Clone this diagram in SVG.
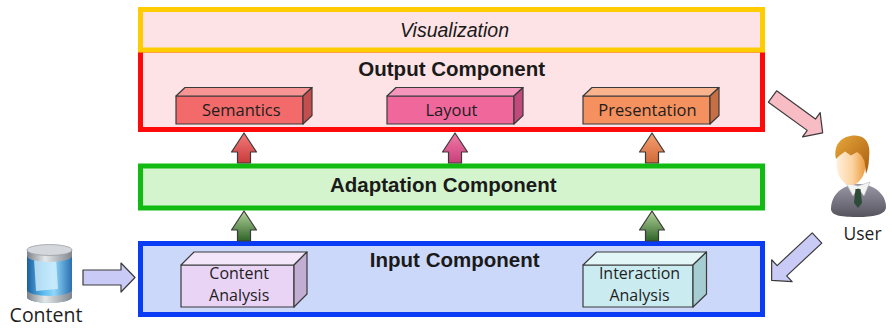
<svg xmlns="http://www.w3.org/2000/svg" width="892" height="328" viewBox="0 0 892 328">
  <defs>
    <style>
      .title { font-family: "Liberation Sans", Arial, sans-serif; font-weight: bold; font-size: 20.5px; fill: #1a1a1a; text-anchor: middle; }
      .ital { font-family: "Liberation Sans", Arial, sans-serif; font-style: italic; font-size: 19.5px; fill: #1a1a1a; text-anchor: middle; }
      .lbl { font-family: "Open Sans", "Noto Sans", sans-serif; font-size: 16.5px; fill: #1e1e1e; text-anchor: middle; }
      .lbl2 { font-family: "Open Sans", "Noto Sans", sans-serif; font-size: 16px; fill: #1e1e1e; text-anchor: middle; }
      .cap { font-family: "Open Sans", "Noto Sans", sans-serif; fill: #1e1e1e; text-anchor: middle; }
      .edge { stroke: #3a3a3a; stroke-width: 1.2; stroke-linejoin: round; }
      .frame { stroke-width: 5; }
    </style>
    <!-- block arrow pointing up, tip at origin -->
    <path id="up" d="M0,0 L12.5,19 L6.5,19 L6.5,30 L-6.5,30 L-6.5,19 L-12.5,19 Z"/>
    <!-- block arrow pointing right, tail at origin, length 62 -->
    <path id="fat" d="M0,-7 L48,-7 L48,-15 L62,0 L48,15 L48,7 L0,7 Z"/>
    <linearGradient id="gRed" x1="0" y1="0" x2="0" y2="1">
      <stop offset="0" stop-color="#f47a7a"/><stop offset="1" stop-color="#c83c3c"/>
    </linearGradient>
    <linearGradient id="gPink" x1="0" y1="0" x2="0" y2="1">
      <stop offset="0" stop-color="#f27aa8"/><stop offset="1" stop-color="#c8407a"/>
    </linearGradient>
    <linearGradient id="gOrange" x1="0" y1="0" x2="0" y2="1">
      <stop offset="0" stop-color="#f7a070"/><stop offset="1" stop-color="#d06a3a"/>
    </linearGradient>
    <linearGradient id="gGreen" x1="0" y1="0" x2="0" y2="1">
      <stop offset="0" stop-color="#b4d49c"/><stop offset="1" stop-color="#2f6428"/>
    </linearGradient>
    <linearGradient id="cylBlue" x1="0" y1="0" x2="1" y2="0">
      <stop offset="0" stop-color="#1b5f9e"/><stop offset="0.35" stop-color="#5ab8ec"/>
      <stop offset="0.6" stop-color="#8fd8fa"/><stop offset="1" stop-color="#2a6fb0"/>
    </linearGradient>
    <linearGradient id="metal" x1="0" y1="0" x2="1" y2="0">
      <stop offset="0" stop-color="#7c8288"/><stop offset="0.4" stop-color="#e4e8ea"/>
      <stop offset="1" stop-color="#80868c"/>
    </linearGradient>
    <linearGradient id="skin" x1="0" y1="0" x2="1" y2="0">
      <stop offset="0" stop-color="#fff0dc"/><stop offset="0.55" stop-color="#fbd3a0"/>
      <stop offset="1" stop-color="#ec9a3c"/>
    </linearGradient>
    <linearGradient id="hair" x1="0" y1="0" x2="1" y2="1">
      <stop offset="0" stop-color="#e8a83a"/><stop offset="1" stop-color="#a85c10"/>
    </linearGradient>
    <linearGradient id="suit" x1="0" y1="0" x2="0" y2="1">
      <stop offset="0" stop-color="#9a98a6"/><stop offset="1" stop-color="#55545e"/>
    </linearGradient>
  </defs>

  <!-- output layer (drawn first so the visualization frame sits on its top edge) -->
  <g id="output-component">
    <rect class="frame" x="140.5" y="50" width="622" height="79.5" fill="#fde3e5" stroke="#ff0a0a"/>
    <text class="title" x="451.7" y="76">Output Component</text>
  </g>

  <g id="visualization">
    <rect class="frame" x="140.5" y="9.5" width="622" height="40.5" fill="#fde3e5" stroke="#ffcc00"/>
    <text class="ital" x="454.5" y="36.5">Visualization</text>
  </g>

  <g id="semantics">
    <rect class="edge" x="176" y="96" width="127" height="28" fill="#f26a6a"/>
    <polygon class="edge" points="176,96 185,87.5 312,87.5 303,96" fill="#f79494"/>
    <polygon class="edge" points="303,96 312,87.5 312,115.5 303,124" fill="#c44e4e"/>
    <text class="lbl" x="241.3" y="115.5">Semantics</text>
  </g>

  <g id="layout">
    <rect class="edge" x="387" y="96" width="127" height="28" fill="#f0679c"/>
    <polygon class="edge" points="387,96 396,87.5 523,87.5 514,96" fill="#f596bd"/>
    <polygon class="edge" points="514,96 523,87.5 523,115.5 514,124" fill="#c04a7c"/>
    <text class="lbl" x="451.5" y="115.5">Layout</text>
  </g>

  <g id="presentation">
    <rect class="edge" x="583" y="96" width="127" height="28" fill="#f5915e"/>
    <polygon class="edge" points="583,96 592,87.5 719,87.5 710,96" fill="#f9b48e"/>
    <polygon class="edge" points="710,96 719,87.5 719,115.5 710,124" fill="#c86e44"/>
    <text class="lbl" x="647.5" y="115.5">Presentation</text>
  </g>

  <g id="adaptation-component">
    <rect class="frame" x="140.5" y="166" width="622" height="42" fill="#d3f4cd" stroke="#12bb12"/>
    <text class="title" x="443.3" y="192.3">Adaptation Component</text>
  </g>

  <g id="input-component">
    <rect class="frame" x="140.5" y="243.5" width="622" height="71" fill="#ccd8f9" stroke="#0a3cf5"/>
    <text class="title" x="454.7" y="266.7">Input Component</text>
  </g>

  <g id="content-analysis">
    <rect class="edge" x="181" y="265" width="113" height="42" fill="#ead4f6"/>
    <polygon class="edge" points="181,265 194,252 307,252 294,265" fill="#f3e6fa"/>
    <polygon class="edge" points="294,265 307,252 307,294 294,307" fill="#c2aed2"/>
    <text class="lbl2" x="239.2" y="278.5">Content</text>
    <text class="lbl2" x="239.2" y="300.5">Analysis</text>
  </g>

  <g id="interaction-analysis">
    <rect class="edge" x="583" y="265" width="110" height="42" fill="#caecf1"/>
    <polygon class="edge" points="583,265 596.5,252 706.5,252 693,265" fill="#e2f5f7"/>
    <polygon class="edge" points="693,265 706.5,252 706.5,294 693,307" fill="#a6cdd2"/>
    <text class="lbl2" x="639.5" y="278.5">Interaction</text>
    <text class="lbl2" x="639.5" y="300.5">Analysis</text>
  </g>

  <g id="content">
    <!-- glass cylinder with metal caps -->
    <path d="M27,251 V297 A22.5,6 0 0 0 72,297 V251 Z" fill="url(#cylBlue)"/>
    <path d="M34,259 L56,257 L58,289 L36,291 Z" fill="#d8f0fc" opacity="0.75"/>
    <path d="M27,290 V297 A22.5,6 0 0 0 72,297 V290 A22.5,6 0 0 1 27,290 Z" fill="url(#metal)"/>
    <path d="M27,250 V256 A22.5,6 0 0 0 72,256 V250 Z" fill="url(#metal)"/>
    <ellipse cx="49.5" cy="250" rx="22.5" ry="5.5" fill="#d4d8dc" stroke="#9aa0a6" stroke-width="0.8"/>
    <text class="cap" x="46" y="322" font-size="19.5">Content</text>
  </g>

  <g id="user">
    <path d="M831,209 C831,194 843,185 857,184 C872,183 886,193 886,207 C886,215 872,217 858,217 C843,217 831,216 831,209 Z" fill="url(#suit)"/>
    <path d="M846,183 L853,196 L858,188 L864,196 L870,182 L858,186 Z" fill="#f4f4f4" stroke="#b8b8b8" stroke-width="0.6"/>
    <path d="M855.5,189 L860.5,189 L862,203 L858,208 L854,203 Z" fill="#2e4a38"/>
    <ellipse cx="851" cy="164" rx="14.5" ry="21" fill="url(#skin)"/>
    <path d="M836,159 C833,144 842,135.5 855,135.5 C866,135.5 871,144 869,158 C869,165 867.5,170 866,174 L864.5,161 L861,155 L857,152 L851,155.5 L845,151.5 L839,156 Z" fill="url(#hair)"/>
    <text class="cap" x="862.5" y="240" font-size="17.5">User</text>
  </g>

  <g id="connectors" class="edge">
    <use href="#up" x="244" y="133" fill="url(#gRed)"/>
    <use href="#up" x="455" y="133" fill="url(#gPink)"/>
    <use href="#up" x="652" y="133" fill="url(#gOrange)"/>
    <use href="#up" x="244" y="211" fill="url(#gGreen)"/>
    <use href="#up" x="652" y="211" fill="url(#gGreen)"/>
    <!-- content feeds input -->
    <path d="M83,270 L121,270 L121,263 L135,277.5 L121,292 L121,285 L83,285 Z" fill="#cacaf6"/>
    <!-- output to user, user to input -->
    <use href="#fat" transform="translate(772.5,96.5) rotate(36)" fill="#f8bcc4"/>
    <use href="#fat" transform="translate(817,238) rotate(137)" fill="#cacaf6"/>
  </g>
</svg>
